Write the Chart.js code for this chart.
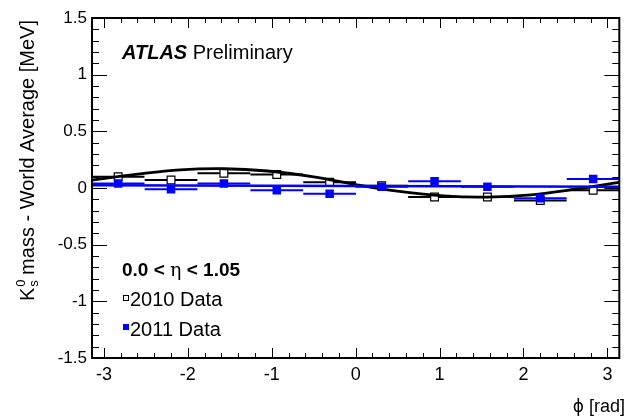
<!DOCTYPE html>
<html>
<head>
<meta charset="utf-8">
<script src="https://cdn.jsdelivr.net/npm/chart.js@4.4.1/dist/chart.umd.min.js"></script>
<style>
  html, body { margin: 0; padding: 0; background: #fff; }
</style>
</head>
<body>
<canvas id="kshortChart" width="626" height="417"></canvas>
<script>
// phi bin centres [rad] and bin half width
const phiCentres = [-2.83, -2.20, -1.57, -0.94, -0.31, 0.31, 0.94, 1.57, 2.20, 2.83];
const phiHalfWidth = 0.314;

// K0s mass minus world average [MeV] per phi bin
const data2010 = [0.10, 0.07, 0.13, 0.12, 0.05, 0.02, -0.08, -0.08, -0.11, -0.02];
const data2011 = [0.04, -0.01, 0.04, -0.02, -0.05, 0.01, 0.06, 0.01, -0.09, 0.08];

// fitted curves
const fit2010Phi = [-3.14, -2.62, -2.09, -1.57, -1.05, -0.52, 0, 0.52, 1.05, 1.57, 2.09, 2.62, 3.14];
const fit2010Val = [0.07, 0.12, 0.16, 0.17, 0.15, 0.10, 0.03, -0.03, -0.07, -0.08, -0.06, -0.01, 0.05];
const fit2011Phi = [-3.14, 3.14];
const fit2011Val = [0.025, 0.01];

const xTickValues = [-3, -2, -1, 0, 1, 2, 3];
const yTickValues = [-1.5, -1, -0.5, 0, 0.5, 1, 1.5];
const phiRange = [-3.1416, 3.1416];
const massRange = [-1.5, 1.5];

const FONT = "'Liberation Sans', Arial, Helvetica, sans-serif";
const BLUE = '#0000ff';

function points(vals) {
    return phiCentres.map((c, i) => ({x: c, y: vals[i]}));
}

// horizontal bars over the bin width, broken with null gaps
function binBars(vals) {
    const pts = [];
    phiCentres.forEach((c, i) => {
        pts.push({x: c - phiHalfWidth, y: vals[i]});
        pts.push({x: c + phiHalfWidth, y: vals[i]});
        pts.push({x: c, y: null});
    });
    return pts;
}

function curve(xs, ys) {
    return xs.map((v, i) => ({x: v, y: ys[i]}));
}

// ROOT style frame with inward ticks plus the text blocks
const frameAndText = {
    id: 'frameAndText',
    afterDatasetsDraw(chart) {
        const {ctx, chartArea: a, scales} = chart;
        const sx = scales.x, sy = scales.y;
        ctx.save();
        ctx.strokeStyle = '#000';
        ctx.lineWidth = 1;
        ctx.beginPath();
        for (let k = -15; k <= 15; k++) {
            const px = Math.round(sx.getPixelForValue(k * 0.2)) + 0.5;
            const len = k % 5 === 0 ? 10 : 5;
            ctx.moveTo(px, a.bottom);
            ctx.lineTo(px, a.bottom - len);
            ctx.moveTo(px, a.top);
            ctx.lineTo(px, a.top + len);
        }
        for (let k = -15; k <= 15; k++) {
            const py = Math.round(sy.getPixelForValue(k * 0.1)) + 0.5;
            const len = k % 5 === 0 ? 15 : 7;
            ctx.moveTo(a.left, py);
            ctx.lineTo(a.left + len, py);
            ctx.moveTo(a.right, py);
            ctx.lineTo(a.right - len, py);
        }
        ctx.stroke();

        ctx.lineWidth = 2;
        ctx.strokeRect(a.left, a.top, a.right - a.left, a.bottom - a.top);

        ctx.fillStyle = '#000';
        ctx.textBaseline = 'alphabetic';
        ctx.textAlign = 'left';

        // ATLAS label
        ctx.font = 'italic bold 20px ' + FONT;
        ctx.fillText('ATLAS', 122, 59);
        let w = ctx.measureText('ATLAS').width;
        ctx.font = '20px ' + FONT;
        ctx.fillText(' Preliminary', 122 + w, 59);

        // eta range
        let tx = 122;
        ctx.font = 'bold 19px ' + FONT;
        ctx.fillText('0.0 < ', tx, 276);
        tx += ctx.measureText('0.0 < ').width;
        ctx.font = "19px 'DejaVu Serif', serif";
        ctx.fillText('η', tx, 276);
        tx += ctx.measureText('η').width;
        ctx.font = 'bold 19px ' + FONT;
        ctx.fillText(' < 1.05', tx, 276);

        // legend
        ctx.lineWidth = 1;
        ctx.fillStyle = '#fff';
        ctx.fillRect(123.5, 295.5, 5, 5);
        ctx.strokeRect(123.5, 295.5, 5, 5);
        ctx.fillStyle = BLUE;
        ctx.fillRect(123, 324, 6, 6);
        ctx.fillStyle = '#000';
        ctx.font = '20px ' + FONT;
        ctx.fillText('2010 Data', 130, 306);
        ctx.fillText('2011 Data', 130, 336);

        // x axis title
        ctx.textAlign = 'right';
        const rad = ' [rad]';
        ctx.font = '18px ' + FONT;
        const rw = ctx.measureText(rad).width;
        ctx.fillText(rad, 625, 412);
        ctx.font = "17px 'DejaVu Sans', sans-serif";
        ctx.fillText('ϕ', 625 - rw, 412);

        // y axis title, rotated, aligned to the top of the axis
        ctx.textAlign = 'left';
        const big = '20px ' + FONT, small = '13px ' + FONT;
        const rest = ' mass - World Average [MeV]';
        ctx.font = big;
        const kw = ctx.measureText('K').width;
        const restW = ctx.measureText(rest).width;
        ctx.font = small;
        const sw = Math.max(ctx.measureText('0').width, ctx.measureText('s').width);
        const total = kw + sw + restW;
        ctx.translate(34, a.top + 2 + total);
        ctx.rotate(-Math.PI / 2);
        ctx.font = big;
        ctx.fillText('K', 0, 0);
        ctx.font = small;
        ctx.fillText('0', kw + 1, -9);
        ctx.fillText('s', kw + 1, 4);
        ctx.font = big;
        ctx.fillText(rest, kw + sw, 0);
        ctx.restore();
    }
};

new Chart(document.getElementById('kshortChart'), {
    type: 'line',
    data: {
        datasets: [
            {
                label: '2011 fit',
                data: curve(fit2011Phi, fit2011Val),
                borderColor: BLUE,
                borderWidth: 2.5,
                pointRadius: 0,
                order: 1
            },
            {
                label: '2011 Data',
                data: points(data2011),
                showLine: false,
                pointStyle: 'rect',
                pointRadius: 6,
                pointBackgroundColor: BLUE,
                pointBorderColor: BLUE,
                pointBorderWidth: 0,
                order: 2
            },
            {
                label: '2011 bins',
                data: binBars(data2011),
                borderColor: BLUE,
                borderWidth: 2,
                pointRadius: 0,
                spanGaps: false,
                order: 3
            },
            {
                label: '2010 fit',
                data: curve(fit2010Phi, fit2010Val),
                borderColor: '#000',
                borderWidth: 2.8,
                pointRadius: 0,
                tension: 0.4,
                order: 4
            },
            {
                label: '2010 Data',
                data: points(data2010),
                showLine: false,
                pointStyle: 'rect',
                pointRadius: 5.5,
                pointBackgroundColor: '#fff',
                pointBorderColor: '#000',
                pointBorderWidth: 1.2,
                order: 5
            },
            {
                label: '2010 bins',
                data: binBars(data2010),
                borderColor: '#000',
                borderWidth: 2,
                pointRadius: 0,
                spanGaps: false,
                order: 6
            }
        ]
    },
    options: {
        responsive: false,
        animation: false,
        devicePixelRatio: 1,
        layout: {padding: {top: 18, right: 1, left: 0, bottom: 0}},
        plugins: {legend: {display: false}, tooltip: {enabled: false}},
        scales: {
            x: {
                type: 'linear',
                min: phiRange[0],
                max: phiRange[1],
                afterBuildTicks: s => { s.ticks = xTickValues.map(v => ({value: v})); },
                afterFit: s => { s.height = 59; },
                grid: {display: false, drawTicks: false},
                border: {display: false},
                ticks: {
                    color: '#000',
                    font: {family: FONT, size: 18},
                    padding: 6,
                    maxRotation: 0,
                    autoSkip: false,
                    callback: v => String(v)
                }
            },
            y: {
                type: 'linear',
                min: massRange[0],
                max: massRange[1],
                afterBuildTicks: s => { s.ticks = yTickValues.map(v => ({value: v})); },
                afterFit: s => { s.width = 92; },
                grid: {display: false, drawTicks: false},
                border: {display: false},
                ticks: {
                    color: '#000',
                    font: {family: FONT, size: 17},
                    padding: 5,
                    autoSkip: false,
                    callback: v => String(v)
                }
            }
        }
    },
    plugins: [frameAndText]
});
</script>
</body>
</html>
